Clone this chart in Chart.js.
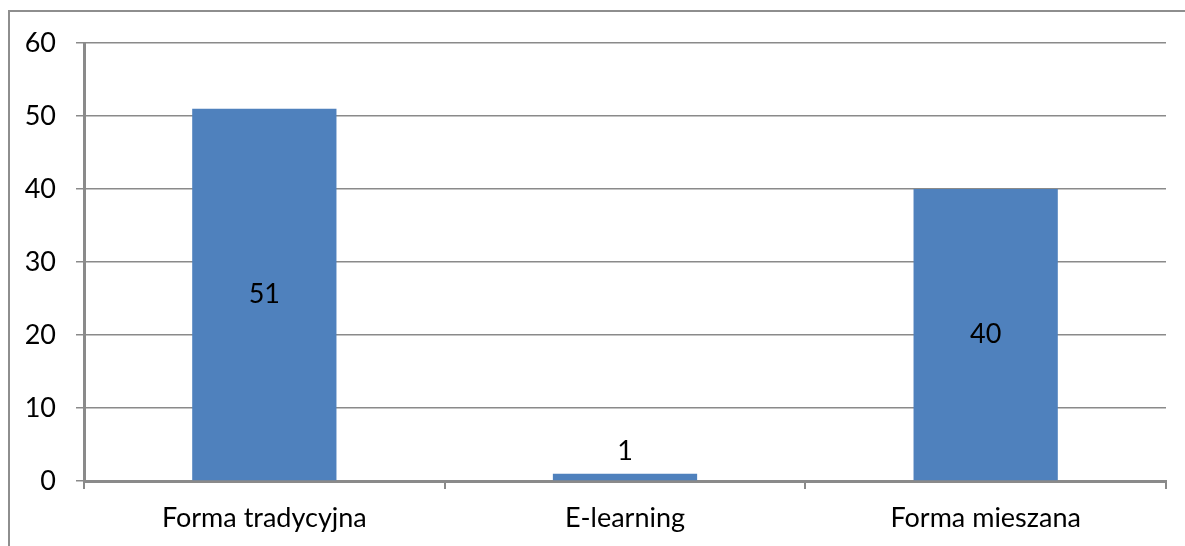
<!DOCTYPE html>
<html>
<head>
<meta charset="utf-8">
<script src="https://cdn.jsdelivr.net/npm/chart.js@4"></script>
<style>
  html, body { margin: 0; padding: 0; background: #fff; overflow: hidden; }
  #wrap { position: relative; width: 1185px; height: 546px; }
  #frame { position: absolute; left: 8px; top: 10px; width: 1300px; height: 700px;
           border: 2px solid #8e8e8e; box-sizing: border-box; }
  canvas { position: absolute; left: 0; top: 0; }
</style>
</head>
<body>
<div id="wrap">
  <div id="frame"></div>
  <canvas id="c" width="1185" height="546"></canvas>
</div>
<script>
const categories = ['Forma tradycyjna', 'E-learning', 'Forma mieszana'];
const counts = [51, 1, 40];
const yTicks = [0, 10, 20, 30, 40, 50, 60];

const FONT = { family: 'Lato', size: 27 };
const GRID = '#8a8a8a';

// Value labels: inside the bar when it is tall enough, above it otherwise
const valueLabels = {
  id: 'valueLabels',
  afterDatasetsDraw(chart) {
    const ctx = chart.ctx;
    const meta = chart.getDatasetMeta(0);
    ctx.save();
    ctx.font = FONT.size + 'px ' + FONT.family;
    ctx.fillStyle = '#000';
    ctx.textAlign = 'center';
    ctx.textBaseline = 'middle';
    meta.data.forEach((bar, i) => {
      const v = counts[i];
      const h = bar.base - bar.y;
      const y = h > 40 ? (bar.y + bar.base) / 2 : bar.y - 22;
      ctx.fillText(String(v), bar.x, y);
    });
    ctx.restore();
  }
};

new Chart(document.getElementById('c'), {
  type: 'bar',
  data: {
    labels: categories,
    datasets: [{
      data: counts,
      backgroundColor: '#4f81bd',
      borderWidth: 0,
      barPercentage: 0.4,
      categoryPercentage: 1.0
    }]
  },
  options: {
    responsive: false,
    animation: false,
    layout: { padding: { left: 0, top: 43, right: 19, bottom: 0 } },
    plugins: { legend: { display: false }, tooltip: { enabled: false } },
    scales: {
      x: {
        grid: { display: true, drawOnChartArea: false, offset: true, tickLength: 8,
                color: GRID, lineWidth: 2 },
        border: { display: true, color: GRID, width: 3 },
        ticks: { font: FONT, color: '#000', padding: 13, maxRotation: 0 },
        afterFit(scale) { scale.height = 65; }
      },
      y: {
        min: 0, max: 60,
        afterBuildTicks(scale) { scale.ticks = yTicks.map(v => ({ value: v })); },
        grid: { color: GRID, lineWidth: 1.5, tickLength: 8 },
        border: { display: true, color: GRID, width: 3 },
        ticks: { font: FONT, color: '#000', padding: 20 },
        afterFit(scale) { scale.width = 84; }
      }
    }
  },
  plugins: [valueLabels]
});
</script>
</body>
</html>
